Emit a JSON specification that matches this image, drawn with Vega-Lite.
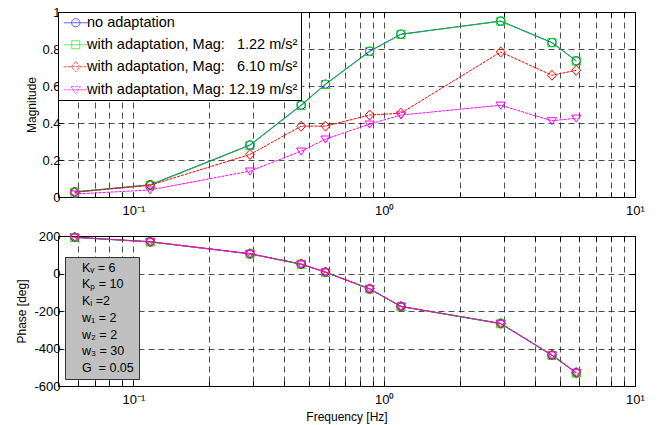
{
  "$schema": "https://vega.github.io/schema/vega-lite/v6.json",
  "padding": {"left": 14, "top": 5, "right": 5, "bottom": 5},
  "spacing": 39,
  "bounds": "flush",
  "config": {
    "font": "Liberation Sans",
    "view": {"stroke": "black", "strokeWidth": 1},
    "axis": {
      "domain": false, "tickColor": "black", "tickWidth": 1,
      "labelColor": "black", "labelFontSize": 13, "labelFont": "Liberation Sans",
      "titleFont": "Liberation Sans", "titleFontSize": 12, "titleFontWeight": "normal", "titleColor": "black",
      "gridColor": "black", "gridDash": [6, 4], "gridWidth": 0.7, "gridOpacity": 1, "labelPadding": 3
    },
    "legend": {"labelFont": "Liberation Sans"}
  },
  "datasets": {
    "d": [
      {"f": 0.0583, "s": "no adaptation", "mag": 0.028, "ph": 193},
      {"f": 0.1166, "s": "no adaptation", "mag": 0.066, "ph": 169},
      {"f": 0.2915, "s": "no adaptation", "mag": 0.281, "ph": 105},
      {"f": 0.4664, "s": "no adaptation", "mag": 0.497, "ph": 50},
      {"f": 0.583, "s": "no adaptation", "mag": 0.61, "ph": 7},
      {"f": 0.8745, "s": "no adaptation", "mag": 0.788, "ph": -82},
      {"f": 1.166, "s": "no adaptation", "mag": 0.88, "ph": -176},
      {"f": 2.915, "s": "no adaptation", "mag": 0.951, "ph": -267},
      {"f": 4.664, "s": "no adaptation", "mag": 0.835, "ph": -436},
      {"f": 5.83, "s": "no adaptation", "mag": 0.736, "ph": -530},
      {"f": 0.0583, "s": "with adaptation, Mag: \u00a0\u00a01.22 m/s²", "mag": 0.026, "ph": 192},
      {"f": 0.1166, "s": "with adaptation, Mag: \u00a0\u00a01.22 m/s²", "mag": 0.064, "ph": 168},
      {"f": 0.2915, "s": "with adaptation, Mag: \u00a0\u00a01.22 m/s²", "mag": 0.279, "ph": 104},
      {"f": 0.4664, "s": "with adaptation, Mag: \u00a0\u00a01.22 m/s²", "mag": 0.494, "ph": 49},
      {"f": 0.583, "s": "with adaptation, Mag: \u00a0\u00a01.22 m/s²", "mag": 0.608, "ph": 6},
      {"f": 0.8745, "s": "with adaptation, Mag: \u00a0\u00a01.22 m/s²", "mag": 0.786, "ph": -83},
      {"f": 1.166, "s": "with adaptation, Mag: \u00a0\u00a01.22 m/s²", "mag": 0.879, "ph": -177},
      {"f": 2.915, "s": "with adaptation, Mag: \u00a0\u00a01.22 m/s²", "mag": 0.95, "ph": -268},
      {"f": 4.664, "s": "with adaptation, Mag: \u00a0\u00a01.22 m/s²", "mag": 0.834, "ph": -437},
      {"f": 5.83, "s": "with adaptation, Mag: \u00a0\u00a01.22 m/s²", "mag": 0.735, "ph": -531},
      {"f": 0.0583, "s": "with adaptation, Mag: \u00a0\u00a06.10 m/s²", "mag": 0.025, "ph": 194},
      {"f": 0.1166, "s": "with adaptation, Mag: \u00a0\u00a06.10 m/s²", "mag": 0.064, "ph": 170},
      {"f": 0.2915, "s": "with adaptation, Mag: \u00a0\u00a06.10 m/s²", "mag": 0.23, "ph": 106},
      {"f": 0.4664, "s": "with adaptation, Mag: \u00a0\u00a06.10 m/s²", "mag": 0.383, "ph": 51},
      {"f": 0.583, "s": "with adaptation, Mag: \u00a0\u00a06.10 m/s²", "mag": 0.383, "ph": 8},
      {"f": 0.8745, "s": "with adaptation, Mag: \u00a0\u00a06.10 m/s²", "mag": 0.443, "ph": -81},
      {"f": 1.166, "s": "with adaptation, Mag: \u00a0\u00a06.10 m/s²", "mag": 0.453, "ph": -175},
      {"f": 2.915, "s": "with adaptation, Mag: \u00a0\u00a06.10 m/s²", "mag": 0.784, "ph": -266},
      {"f": 4.664, "s": "with adaptation, Mag: \u00a0\u00a06.10 m/s²", "mag": 0.658, "ph": -434},
      {"f": 5.83, "s": "with adaptation, Mag: \u00a0\u00a06.10 m/s²", "mag": 0.685, "ph": -528},
      {"f": 0.0583, "s": "with adaptation, Mag: 12.19 m/s²", "mag": 0.016, "ph": 193},
      {"f": 0.1166, "s": "with adaptation, Mag: 12.19 m/s²", "mag": 0.038, "ph": 169},
      {"f": 0.2915, "s": "with adaptation, Mag: 12.19 m/s²", "mag": 0.14, "ph": 105},
      {"f": 0.4664, "s": "with adaptation, Mag: 12.19 m/s²", "mag": 0.248, "ph": 50},
      {"f": 0.583, "s": "with adaptation, Mag: 12.19 m/s²", "mag": 0.313, "ph": 7},
      {"f": 0.8745, "s": "with adaptation, Mag: 12.19 m/s²", "mag": 0.394, "ph": -82},
      {"f": 1.166, "s": "with adaptation, Mag: 12.19 m/s²", "mag": 0.443, "ph": -176},
      {"f": 2.915, "s": "with adaptation, Mag: 12.19 m/s²", "mag": 0.496, "ph": -267},
      {"f": 4.664, "s": "with adaptation, Mag: 12.19 m/s²", "mag": 0.412, "ph": -435},
      {"f": 5.83, "s": "with adaptation, Mag: 12.19 m/s²", "mag": 0.426, "ph": -529}
    ],
    "params": [
      {"p": "Kᵥ = 6"},
      {"p": "Kₚ = 10"},
      {"p": "Kᵢ =2"},
      {"p": "w₁ = 2"},
      {"p": "w₂ = 2"},
      {"p": "w₃ = 30"},
      {"p": "G\u00a0 = 0.05"}
    ]
  },
  "vconcat": [
    {
      "width": 577, "height": 185,
      "data": {"name": "d"},
      "layer": [
        {
          "transform": [{"filter": "false"}],
          "mark": {"type": "point", "filled": false, "strokeWidth": 1, "size": 100},
          "encoding": {
            "color": {"field": "s", "type": "nominal",
              "scale": {"domain": ["no adaptation", "with adaptation, Mag: \u00a0\u00a01.22 m/s²", "with adaptation, Mag: \u00a0\u00a06.10 m/s²", "with adaptation, Mag: 12.19 m/s²"],
                "range": ["#0000ff", "#00e000", "#ff0000", "#ff00ff"]},
              "legend": {"title": null, "orient": "top-left", "offset": 0, "fillColor": "white", "strokeColor": "black",
                "padding": 3.5, "symbolOffset": 7, "labelOffset": 4, "labelFontSize": 14.5, "labelLimit": 400, "rowPadding": 7,
                "symbolSize": 100, "symbolStrokeWidth": 1, "labelColor": "black"}},
            "shape": {"field": "s", "type": "nominal",
              "scale": {"domain": ["no adaptation", "with adaptation, Mag: \u00a0\u00a01.22 m/s²", "with adaptation, Mag: \u00a0\u00a06.10 m/s²", "with adaptation, Mag: 12.19 m/s²"],
                "range": ["M-2.4,0H2.4M0.83,0A0.83,0.83,0,1,1,-0.83,0A0.83,0.83,0,1,1,0.83,0", "M-2.4,0H2.4M-0.8,-0.8H0.8V0.8H-0.8Z", "M-2.4,0H2.4M0,-1L0.9,0L0,1L-0.9,0Z", "M-2.4,0H2.4M-0.93,-0.62H0.93L0,0.8Z"]},
              "legend": {"title": null, "orient": "top-left", "offset": 0, "fillColor": "white", "strokeColor": "black",
                "padding": 3.5, "symbolOffset": 7, "labelOffset": 4, "labelFontSize": 14.5, "labelLimit": 400, "rowPadding": 7,
                "symbolSize": 100, "symbolStrokeWidth": 1, "labelColor": "black"}}
          }
        },
        {
          "mark": {"type": "line", "strokeWidth": 1},
          "encoding": {
            "x": {"field": "f", "type": "quantitative", "scale": {"type": "log", "domain": [0.05, 10]},
              "axis": {"orient": "top", "labels": false, "grid": false, "tickSize": -5, "title": null,
                "values": [0.06,0.07,0.08,0.09,0.1,0.2,0.3,0.4,0.5,0.6,0.7,0.8,0.9,1,2,3,4,5,6,7,8,9,10]}},
            "y": {"field": "mag", "type": "quantitative", "scale": {"domain": [0, 1]},
              "axis": {"orient": "right", "labels": false, "grid": false, "tickSize": -5, "title": null,
                "values": [0, 0.2, 0.4, 0.6, 0.8, 1]}},
            "color": {"field": "s", "type": "nominal", "legend": null},
            "strokeDash": {"field": "s", "type": "nominal",
              "scale": {"domain": ["no adaptation", "with adaptation, Mag: \u00a0\u00a01.22 m/s²", "with adaptation, Mag: \u00a0\u00a06.10 m/s²", "with adaptation, Mag: 12.19 m/s²"],
                "range": [[1, 0], [1, 0], [3, 1], [3, 1]]}, "legend": null}
          }
        },
        {
          "transform": [{"filter": "datum.s == 'no adaptation'"}],
          "mark": {"type": "point", "shape": "M0.83,0A0.83,0.83,0,1,1,-0.83,0A0.83,0.83,0,1,1,0.83,0", "filled": false, "strokeWidth": 1, "size": 100, "opacity": 1},
          "encoding": {
            "x": {"field": "f", "type": "quantitative", "scale": {"type": "log", "domain": [0.05, 10]},
              "axis": {"orient": "bottom", "grid": true, "tickSize": -5, "title": null, "labelFlush": false, "labelOverlap": false, "labelPadding": 12,
                "values": [0.06,0.07,0.08,0.09,0.1,0.2,0.3,0.4,0.5,0.6,0.7,0.8,0.9,1,2,3,4,5,6,7,8,9,10],
                "labelExpr": "datum.value == 0.1 ? '10⁻¹' : datum.value == 1 ? '10⁰' : datum.value == 10 ? '10¹' : ''"}},
            "y": {"field": "mag", "type": "quantitative", "scale": {"domain": [0, 1]},
              "axis": {"orient": "left", "grid": true, "tickSize": -5, "title": "Magnitude", "titlePadding": 3.5,
                "values": [0, 0.2, 0.4, 0.6, 0.8, 1], "labelExpr": "'' + datum.value"}},
            "color": {"field": "s", "type": "nominal", "legend": null}
          }
        },
        {
          "transform": [{"filter": "indexof(datum.s, '1.22') >= 0"}],
          "mark": {"type": "point", "shape": "M-0.8,-0.8H0.8V0.8H-0.8Z", "filled": false, "strokeWidth": 1, "size": 100, "opacity": 1},
          "encoding": {
            "x": {"field": "f", "type": "quantitative", "scale": {"type": "log", "domain": [0.05, 10]}, "axis": null},
            "y": {"field": "mag", "type": "quantitative", "scale": {"domain": [0, 1]}, "axis": null},
            "color": {"field": "s", "type": "nominal", "legend": null}
          }
        },
        {
          "transform": [{"filter": "indexof(datum.s, '6.10') >= 0"}],
          "mark": {"type": "point", "shape": "M0,-1L0.9,0L0,1L-0.9,0Z", "filled": false, "strokeWidth": 1, "size": 100, "opacity": 1},
          "encoding": {
            "x": {"field": "f", "type": "quantitative", "scale": {"type": "log", "domain": [0.05, 10]}, "axis": null},
            "y": {"field": "mag", "type": "quantitative", "scale": {"domain": [0, 1]}, "axis": null},
            "color": {"field": "s", "type": "nominal", "legend": null}
          }
        },
        {
          "transform": [{"filter": "indexof(datum.s, '12.19') >= 0"}],
          "mark": {"type": "point", "shape": "M-0.93,-0.62H0.93L0,0.8Z", "filled": false, "strokeWidth": 1, "size": 100, "opacity": 1},
          "encoding": {
            "x": {"field": "f", "type": "quantitative", "scale": {"type": "log", "domain": [0.05, 10]}, "axis": null},
            "y": {"field": "mag", "type": "quantitative", "scale": {"domain": [0, 1]}, "axis": null},
            "color": {"field": "s", "type": "nominal", "legend": null}
          }
        }
      ],
      "resolve": {"axis": {"x": "independent", "y": "independent"}}
    },
    {
      "width": 577, "height": 150,
      "layer": [
        {
          "data": {"name": "d"},
          "mark": {"type": "line", "strokeWidth": 1},
          "encoding": {
            "x": {"field": "f", "type": "quantitative", "scale": {"type": "log", "domain": [0.05, 10]},
              "axis": {"orient": "top", "labels": false, "grid": false, "tickSize": -5, "title": null,
                "values": [0.06,0.07,0.08,0.09,0.1,0.2,0.3,0.4,0.5,0.6,0.7,0.8,0.9,1,2,3,4,5,6,7,8,9,10]}},
            "y": {"field": "ph", "type": "quantitative", "scale": {"domain": [-600, 200]},
              "axis": {"orient": "right", "labels": false, "grid": false, "tickSize": -5, "title": null,
                "values": [-600, -400, -200, 0, 200]}},
            "color": {"field": "s", "type": "nominal", "legend": null},
            "strokeDash": {"field": "s", "type": "nominal",
              "scale": {"domain": ["no adaptation", "with adaptation, Mag: \u00a0\u00a01.22 m/s²", "with adaptation, Mag: \u00a0\u00a06.10 m/s²", "with adaptation, Mag: 12.19 m/s²"],
                "range": [[1, 0], [1, 0], [3, 1], [3, 1]]}, "legend": null}
          }
        },
        {
          "data": {"name": "d"},
          "transform": [{"filter": "datum.s == 'no adaptation'"}],
          "mark": {"type": "point", "shape": "M0.83,0A0.83,0.83,0,1,1,-0.83,0A0.83,0.83,0,1,1,0.83,0", "filled": false, "strokeWidth": 1, "size": 100, "opacity": 1},
          "encoding": {
            "x": {"field": "f", "type": "quantitative", "scale": {"type": "log", "domain": [0.05, 10]},
              "axis": {"orient": "bottom", "grid": true, "tickSize": -5, "title": "Frequency [Hz]", "titlePadding": 5, "labelFlush": false, "labelOverlap": false, "labelPadding": 12,
                "values": [0.06,0.07,0.08,0.09,0.1,0.2,0.3,0.4,0.5,0.6,0.7,0.8,0.9,1,2,3,4,5,6,7,8,9,10],
                "labelExpr": "datum.value == 0.1 ? '10⁻¹' : datum.value == 1 ? '10⁰' : datum.value == 10 ? '10¹' : ''"}},
            "y": {"field": "ph", "type": "quantitative", "scale": {"domain": [-600, 200]},
              "axis": {"orient": "left", "grid": true, "tickSize": -5, "title": "Phase [deg]", "titlePadding": 5.5,
                "values": [-600, -400, -200, 0, 200], "labelExpr": "'' + datum.value"}},
            "color": {"field": "s", "type": "nominal", "legend": null}
          }
        },
        {
          "data": {"name": "d"},
          "transform": [{"filter": "indexof(datum.s, '1.22') >= 0"}],
          "mark": {"type": "point", "shape": "M-0.8,-0.8H0.8V0.8H-0.8Z", "filled": false, "strokeWidth": 1, "size": 100, "opacity": 1},
          "encoding": {
            "x": {"field": "f", "type": "quantitative", "scale": {"type": "log", "domain": [0.05, 10]}, "axis": null},
            "y": {"field": "ph", "type": "quantitative", "scale": {"domain": [-600, 200]}, "axis": null},
            "color": {"field": "s", "type": "nominal", "legend": null}
          }
        },
        {
          "data": {"name": "d"},
          "transform": [{"filter": "indexof(datum.s, '6.10') >= 0"}],
          "mark": {"type": "point", "shape": "M0,-1L0.9,0L0,1L-0.9,0Z", "filled": false, "strokeWidth": 1, "size": 100, "opacity": 1},
          "encoding": {
            "x": {"field": "f", "type": "quantitative", "scale": {"type": "log", "domain": [0.05, 10]}, "axis": null},
            "y": {"field": "ph", "type": "quantitative", "scale": {"domain": [-600, 200]}, "axis": null},
            "color": {"field": "s", "type": "nominal", "legend": null}
          }
        },
        {
          "data": {"name": "d"},
          "transform": [{"filter": "indexof(datum.s, '12.19') >= 0"}],
          "mark": {"type": "point", "shape": "M-0.93,-0.62H0.93L0,0.8Z", "filled": false, "strokeWidth": 1, "size": 100, "opacity": 1},
          "encoding": {
            "x": {"field": "f", "type": "quantitative", "scale": {"type": "log", "domain": [0.05, 10]}, "axis": null},
            "y": {"field": "ph", "type": "quantitative", "scale": {"domain": [-600, 200]}, "axis": null},
            "color": {"field": "s", "type": "nominal", "legend": null}
          }
        },
        {
          "data": {"name": "params"},
          "mark": {"type": "point", "opacity": 0},
          "encoding": {
            "size": {"field": "p", "type": "ordinal", "sort": null,
              "scale": {"type": "ordinal", "range": [1, 1, 1, 1, 1, 1, 1]},
              "legend": {"title": null, "orient": "none", "legendX": 7, "legendY": 245, "fillColor": "#c0c0c0", "strokeColor": "#333333",
                "padding": 4.5, "labelOffset": 0, "labelFontSize": 12.5, "labelColor": "black", "rowPadding": 3.7, "symbolOpacity": 0, "labelLimit": 200}}
          }
        }
      ],
      "resolve": {"axis": {"x": "independent", "y": "independent"}}
    }
  ]
}
